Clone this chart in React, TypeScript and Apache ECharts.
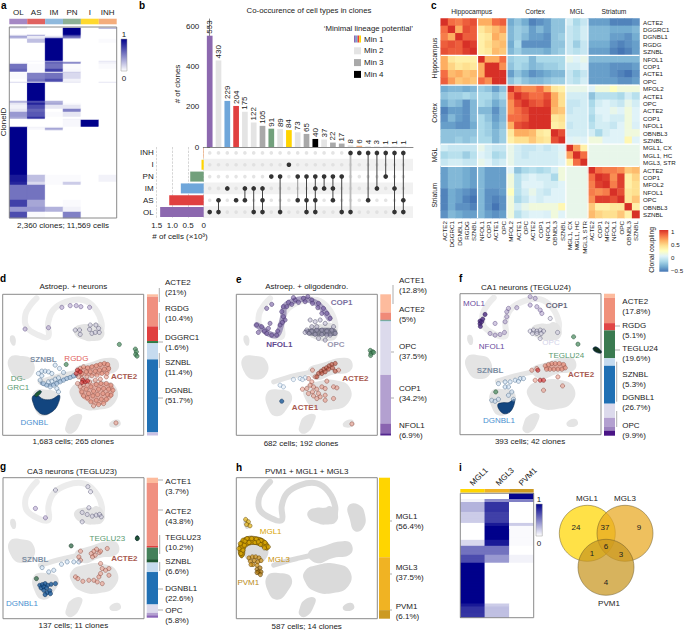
import React, { useEffect, useRef } from "react";
import * as echarts from "echarts";

const FONT = '"Liberation Sans", Arial, sans-serif';
const INK = "#222222";

// ---------- panel a ----------
const aColumns = ["OL", "AS", "IM", "PN", "I", "INH"];
const lineageColors = ["#a588c4", "#e0625f", "#8fb9dd", "#8db096", "#ffd92f", "#f4ad7c"];
// [rows, OL, AS, IM, PN, I, INH]
const aRuns = [
  [1,.15,0,0,0,0,.1],[1,.1,0,0,1,0,.35],[6,0,0,0,1,0,0],[1,.1,.35,0,.8,0,0],[2,.35,.08,.1,.6,0,0],[1,.2,.1,.8,.3,0,0],
  [4,0,.25,1,0,0,.02],[18,0,0,1,0,0,0],[1,0,.03,.4,0,0,.1],[2,.02,0,.6,.45,0,.05],[5,.55,.02,.55,.02,0,.02],[3,.6,.02,.75,.03,0,0],
  [1,0,0,.05,.2,0,0],[6,.02,.5,.55,.15,0,0],[3,0,.55,.7,.05,0,0],[1,.15,.1,.05,.1,0,.1],[18,0,1,0,0,0,0],[2,.3,.7,.3,0,0,0],
  [2,.1,.85,.35,.02,0,0],[4,.05,.7,.1,.1,0,0],[3,.1,.6,0,.5,0,0],[5,.4,.65,.02,.1,0,0],[2,.35,.8,0,0,0,0],[1,0,.05,0,.05,0,0],
  [7,0,0,0,.03,1,0],[1,.9,.05,.05,0,0,0],[2,1,.03,.35,0,0,0],[1,1,0,.1,0,0,0],[44,1,0,0,0,0,0],[7,.9,.25,.02,.02,0,.05],
  [3,.85,.15,.02,.2,0,0],[15,.55,.55,0,0,0,0],[7,.75,.35,0,.02,0,0],[5,.4,.4,.3,.05,0,0],[6,.7,.02,0,.5,0,0],
];

// ---------- panel b ----------
const bCounts = [553,430,229,204,175,122,105,91,89,84,73,65,40,37,22,17,8,6,4,3,1,1,1];
const bColors = ["#8c68af","#e4e4e4","#6fa6da","#e04040","#e4e4e4","#e4e4e4","#a9a9a9","#72a07c","#e4e4e4","#ffd400","#e4e4e4","#a9a9a9","#000000","#e4e4e4","#a9a9a9","#a9a9a9","#e4e4e4","#f4ad7c","#e4e4e4","#e4e4e4","#a9a9a9","#a9a9a9","#a9a9a9"];
const setRows = ["INH", "I", "PN", "IM", "AS", "OL"];
const setSizes = [0.02, 0.07, 0.43, 0.73, 1.1, 1.39];
const setColors = ["#f4ad7c", "#ffd400", "#72a07c", "#6fa6da", "#e04040", "#8c68af"];
// the rows each column's dot sits in, 0 = INH ... 5 = OL
const memberships = [[5],[4,5],[3],[4],[3,4],[3,5],[3,4,5],[2],[2,5],[1],[2,4],[2,4,5],[2,3,4,5],[2,3],[2,3,4],[2,5],[0,5],[0],[0,4],[0,3],[0,2],[0,3,5],[0,4,5]];

// ---------- panel c ----------
const cRows = ["ACTE2","DGGRC1","DGNBL1","RGDG","SZNBL","NFOL1","COP1","ACTE1","OPC","MFOL2","ACTE1","OPC","ACTE2","COP1","NFOL1","OBNBL3","SZNBL","MGL1, CX","MGL1, HC","MGL3, STR","ACTE2","COP1","MFOL2","NFOL1","OPC","OBNBL3","SZNBL"];
// upper triangle of the symmetric coupling matrix, each row starts on the diagonal
const cUpper = [
  [1,.8,.75,.85,.9,.6,.6,.8,.85,-.4,-.3,-.4,-.55,-.5,-.45,-.3,-.3,-.05,-.2,-.1,-.45,-.45,-.45,-.55,-.55,-.55,-.5],
  [1,.6,.9,.85,.35,.45,.55,.65,-.35,-.25,-.3,-.45,-.35,-.45,-.3,-.3,-.1,-.15,-.05,-.35,-.35,-.35,-.4,-.4,-.4,-.35],
  [1,.85,.85,.3,.35,.6,.5,-.35,-.25,-.35,-.45,-.45,-.5,-.3,-.25,-.1,-.15,-.05,-.35,-.35,-.35,-.45,-.45,-.5,-.4],
  [1,.95,.3,.4,.5,.55,-.4,-.2,-.5,-.5,-.5,-.5,-.3,-.3,-.1,-.25,-.1,-.4,-.4,-.4,-.5,-.55,-.5,-.45],
  [1,.3,.35,.55,.5,-.35,-.25,-.35,-.35,-.35,-.4,-.3,-.25,-.1,-.15,-.1,-.45,-.45,-.45,-.55,-.6,-.55,-.45],
  [1,.6,.6,.8,-.25,-.2,-.2,-.35,-.2,-.2,-.2,-.2,.05,0,.05,-.35,-.35,-.35,-.35,-.35,-.35,-.35],
  [1,1,.7,-.3,-.2,-.25,-.35,-.3,-.25,-.25,-.2,-.05,-.05,0,-.45,-.45,-.45,-.5,-.5,-.5,-.45],
  [1,1,-.45,-.3,-.4,-.5,-.45,-.4,-.35,-.35,-.1,-.2,-.1,-.45,-.45,-.45,-.5,-.55,-.6,-.5],
  [1,-.3,-.2,-.3,-.35,-.35,-.3,-.25,-.25,-.1,-.15,-.05,-.45,-.45,-.45,-.45,-.5,-.5,-.45],
  [1,.8,.7,.7,.8,.6,.35,.3,.05,.05,.05,0,.1,.1,.2,.1,.1,.1],
  [1,.9,.8,.8,.9,.6,.4,-.05,-.05,-.05,-.3,-.15,-.15,-.15,-.2,-.05,-.15],
  [1,.9,.85,.95,.6,.4,-.1,-.1,-.05,-.2,-.05,0,-.05,-.1,.05,-.05],
  [1,1,1,.55,.5,-.1,-.05,-.05,-.15,0,0,.05,0,.1,0],
  [1,1,.35,.4,-.05,-.05,-.05,-.2,-.05,0,-.05,-.05,.1,0],
  [1,.3,.35,-.1,-.05,-.05,-.15,-.05,-.05,-.1,0,.1,-.02],
  [1,.9,-.05,-.05,-.05,-.05,-.2,-.05,0,0,.1,.1],
  [1,0,.02,0,.1,.1,0,0,0,.25,0],
  [1,.65,.3,.05,.05,.05,.05,.05,.05,.05],
  [1,.8,.05,.05,.05,.05,.05,.05,.05],
  [1,.05,.05,.05,.05,.05,.05,.05],
  [1,.8,.75,.75,.7,.5,.55],
  [1,.95,.7,.95,.3,.45],
  [1,.75,.95,.3,.4],
  [1,.9,.35,.4],
  [1,.35,.5],
  [1,.3],
  [1],
];
const cGroupBreaks = [5, 9, 17, 20];

// ---------- strips ----------
const stripD = [1.7,21,10.4,1.6,11.4,51.7,2.2];
const stripDColors = ["#fdbfa2","#f09080","#e04040","#2e7a45","#c6dbef","#2171b5","#c9c0e2"];
const stripE = [12.8,5,.5,.5,.5,37.5,34.2,6.9,1.6];
const stripEColors = ["#fdbb9d","#f08a78","#b05a50","#4a9a8a","#9fc5e0","#dcdaec","#b3a0d0","#8a64b0","#54278f"];
const stripF = [2.9,17.8,5.1,19.6,5.3,26.7,9.9,6,3,3.6];
const stripFColors = ["#fdbb9d","#f0907a","#e04545","#3a7a50","#c6dbef","#2070b4","#dcdaec","#b3a0d0","#9d84c0","#4a1486"];
const stripG = [3.7,43.8,1.2,8,2.4,6.6,22.6,5.8,1.7,1.7];
const stripGColors = ["#fdbb9d","#f09080","#e04040","#44805a","#1f5a35","#c6dbef","#2070b4","#dcdaec","#b3a0d0","#8a64b8"];
const stripH = [56.4,37.5,6.1];
const stripHColors = ["#ffd500","#f0b323","#cc9a22"];

// ---------- UMAP background, in frame units ----------
const umapArc = [[101,12],[85,30],[68,60],[71,97],[106,122],[136,127],[136,85],[151,47],[191,22],[241,17],[276,42],[296,87],[291,122]];
const umapRibbon = [[112,262],[150,250],[190,240],[225,232]];
const umapBlobs = [
  [[216,100],[240,90],[265,90],[280,85],[300,100],[300,130],[270,140],[240,135],[216,120]],
  [[22,127],[35,125],[38,150],[28,152]],
  [[20,190],[60,185],[90,200],[90,240],[55,255],[25,235]],
  [[215,225],[260,205],[320,190],[345,200],[340,230],[290,240],[240,255]],
  [[205,280],[240,262],[300,258],[340,280],[335,325],[290,345],[235,340],[205,310]],
  [[92,295],[125,285],[165,300],[150,345],[120,365],[95,340]],
  [[190,390],[205,365],[235,360],[232,385],[210,415],[190,412]],
  [[320,385],[345,375],[352,392],[325,398]],
];
const umapRightPatch = [[335,85],[365,80],[385,110],[380,150],[355,160],[340,125]];

// ---------- UMAP cells: d ----------
const dPurple = [[75,252],[145,248],[185,187],[210,182],[228,182],[242,185],[268,187]];
const dOpc = [[225,255],[238,255],[240,268],[268,253],[275,265],[287,240],[295,250],[285,262],[297,262],[270,240]];
const dGreen = [[357,298],[405,312],[408,320],[406,328],[410,333],[198,358]];
const dSznbl = [[115,385],[125,378],[135,378],[145,380],[155,385],[125,392],[120,405],[130,415],[140,420],[150,425],[160,420],[170,415],[180,410],[190,405],[200,400],[210,397],[220,392],[165,360],[178,370],[190,382],[145,410],[155,408],[165,402],[175,398],[170,430],[175,440]];
const dSznblTrail = [[125,415],[150,420],[180,408],[205,398],[228,392]];
const dActe2 = [[240,370],[250,365],[262,368],[275,365],[288,362],[300,358],[312,355],[322,358],[325,370],[312,372],[298,375],[285,378],[270,380],[258,380],[245,385],[235,395],[245,400],[260,395],[275,392],[290,390],[305,385],[320,385],[318,395],[300,402],[285,405],[268,410],[250,418],[240,425],[232,415],[245,440],[258,432],[272,425],[288,418],[302,415],[318,415],[332,420],[338,435],[325,432],[310,430],[295,432],[280,438],[265,445],[250,452],[262,458],[278,452],[292,448],[308,445],[322,448],[332,450],[318,462],[303,462],[288,465],[272,470],[295,478],[310,475],[280,482],[347,533]];
const dActeUpperMass = [[232,372],[265,362],[322,352],[330,378],[300,390],[262,392],[238,392]];
const dActeLowerMass = [[238,430],[285,412],[335,418],[338,452],[300,480],[268,472],[242,452]];
const dRed = [[232,375],[240,380],[228,385],[248,405],[255,410],[245,412],[262,408]];
const dDgnblMass = [[97,455],[110,450],[130,462],[155,462],[178,450],[172,480],[155,500],[130,508],[110,495],[100,475]];
const dGrcMass = [[103,450],[118,436],[124,440],[110,455]];

// ---------- e ----------
const eCop1 = [[170,200],[175,185],[190,172],[210,165],[235,160],[260,165],[280,175],[295,190],[305,205],[315,220],[175,215],[180,225],[165,240],[155,270],[140,270],[125,265],[110,245],[95,240],[100,262],[135,235],[125,190],[140,178],[185,185],[200,178],[220,172],[240,170],[262,175],[278,188],[290,205],[172,232],[158,258],[118,258],[130,250],[205,158],[248,155]];
const eCopTrail = [[95,240],[110,250],[130,265],[155,270],[168,240],[175,210],[178,185],[200,170],[235,162],[270,172],[295,195],[312,220]];
const eOpc = [[245,255],[260,258],[275,255],[290,255],[305,258],[320,255],[330,265],[255,225],[270,230],[285,225],[300,235],[280,280],[300,285],[315,270],[270,268],[290,268],[240,262],[252,265],[305,270],[325,245],[260,245],[275,245]];
const eOpcMass = [[238,255],[270,250],[330,252],[334,270],[300,272],[250,270]];
const eActe = [[250,400],[260,410],[270,395],[340,375],[255,420],[245,430],[232,432],[265,425],[250,445],[262,440],[275,432],[290,425],[300,430],[280,445],[265,452],[285,455],[300,450],[325,425],[335,428],[325,460],[305,408],[262,375],[380,536],[275,460],[300,465]];
const eRed = [[280,385],[288,378],[296,372],[304,368],[312,362],[320,358],[330,355],[290,385],[300,380],[310,372],[322,368],[275,395],[330,378]];
const eBlue = [[165,420],[175,425],[205,403],[225,400],[240,398],[232,403]];
const eGreen = [[435,316],[442,320],[437,325],[445,322],[436,331]];
const eNavy = [[170,468]];

// ---------- f ----------
const fMol = [[75,228],[75,236],[76,244],[80,230],[83,222],[90,208]];
const fNfol = [[105,265],[120,270],[135,268],[148,262],[120,235],[150,230],[155,215],[155,200],[160,190],[185,188],[225,155],[240,160],[225,180],[245,185],[255,195],[260,205]];
const fOpc = [[225,258],[235,255],[245,258],[255,255],[265,258],[232,265],[245,265],[258,265],[285,220],[307,262],[255,280]];
const fGreen = [[355,275],[368,297],[122,440]];
const fDarkMass = [[413,310],[422,305],[438,318],[436,324],[420,320]];
const fActe = [[270,362],[280,358],[290,355],[300,355],[312,355],[325,358],[330,368],[320,372],[308,372],[296,372],[284,372],[274,372],[230,375],[245,370],[308,395],[265,435],[322,422],[240,405]];
const fActeMass = [[268,360],[290,352],[328,354],[332,372],[290,376],[270,374]];
const fRed = [[255,405],[265,405],[248,375]];
const fBlue = [[130,415],[150,410],[165,410],[180,405],[160,425],[150,425],[195,400],[205,400],[190,408],[110,465],[120,468],[170,440],[160,450],[175,462],[130,462]];
const fDgnblMass = [[128,478],[145,472],[160,472],[178,462],[172,490],[155,505],[138,500]];

// ---------- g ----------
const gPurple = [[105,220],[135,248]];
const gGrey = [[165,165],[262,155],[270,170],[265,218],[245,232],[260,238],[275,243],[287,240],[297,238],[245,260],[302,245]];
const gGreen = [[212,332],[108,430],[410,310]];
const gDarkMass = [[405,305],[412,302],[415,312],[407,316]];
const gActe = [[240,348],[272,355],[280,348],[288,342],[296,352],[284,360],[300,348],[320,340],[276,365],[225,425],[232,430],[247,438],[265,435],[280,435],[295,425],[300,415],[305,400],[315,405],[325,400],[300,385],[325,420],[305,445],[240,375],[235,365],[290,440]];
const gBlue = [[125,397],[160,405],[145,410],[183,387],[200,380],[220,380],[235,380]];
const gNavy = [[118,450],[126,448],[134,445],[142,450],[152,447],[165,445],[122,458],[130,455],[138,458],[130,465],[140,472],[148,466],[134,478],[150,475]];

// ---------- h ----------
const hRing = [[42,340],[46,325],[54,315],[66,310],[80,310],[94,312],[108,316],[120,322],[130,335],[48,355],[58,330],[72,322],[90,322],[106,328],[118,338],[54,345],[60,318],[100,320]];
const hSmall = [[62,253],[70,260],[65,268],[75,272]];
const hBlob = [[72,368],[82,365],[92,365],[102,368],[108,376],[76,378],[88,376],[98,380],[84,388],[96,390],[78,388]];
const hPvm = [[96,402],[105,398],[100,410],[108,410],[106,418],[96,412]];
const hRingMass = [[40,345],[45,320],[65,305],[95,305],[120,315],[133,335],[125,345],[105,332],[80,328],[62,338],[58,360],[50,368],[42,360]];

// ---------- panel i ----------
const iColumns = ["MGL1", "MGL3", "PVM1"];
const iColors = ["#ffd500", "#f0b323", "#cc9a22"];
// [rows, MGL1, MGL3, PVM1]
const iRuns = [[6,0,0,1],[3,.05,.45,.5],[10,.3,.8,0],[11,.2,.75,0],[3,0,.9,.2],[14,0,1,.02],[6,.15,.9,.02],[9,.55,.55,0],[8,.7,.4,.05],[41,1,0,0],[3,.9,.2,0],[11,.8,.25,0]];
const vennCounts = ["24","37","9","1","6","3","4"];

function expandRuns(runs: number[][]) {
  const out: number[][] = [];
  let row = 0;
  runs.forEach(([n, ...vals]) => {
    for (let i = 0; i < n; i++) {
      vals.forEach((v, c) => out.push([c, row, v]));
      row++;
    }
  });
  return { cells: out, rows: row };
}

function buildOption() {
  const grid: any[] = [], xAxis: any[] = [], yAxis: any[] = [], series: any[] = [], graphic: any[] = [];
  const hidden = { show: false };
  const addGrid = (x: number, y: number, w: number, h: number, xa: any, ya: any, extra: any = {}) => {
    grid.push({ left: x, top: y, width: w, height: h, containLabel: false, ...extra });
    const i = grid.length - 1;
    xAxis.push({ gridIndex: i, ...xa });
    yAxis.push({ gridIndex: i, ...ya });
    return i;
  };
  const text = (s: string, x: number, y: number, o: any = {}) => {
    const { align = "left", size = 8, color = INK, weight = "normal", rotation = 0, style = "normal" } = o;
    graphic.push({
      type: "text", x, y, rotation, z: 100, silent: true,
      style: { text: s, x: 0, y: 0, fill: color, fontFamily: FONT, fontSize: size, fontWeight: weight, fontStyle: style, align, textAlign: align, verticalAlign: "middle", textVerticalAlign: "middle" },
    });
  };
  const vLine = (x: number, y1: number, y2: number) => graphic.push({ type: "line", z: 100, silent: true, shape: { x1: x, y1, x2: x, y2 }, style: { stroke: "#8a8a8a", lineWidth: 0.7 } });
  const hLine = (x1: number, x2: number, y: number) => graphic.push({ type: "line", z: 100, silent: true, shape: { x1, y1: y, x2, y2: y }, style: { stroke: "#8a8a8a", lineWidth: 0.7 } });
  const frame = (x: number, y: number, w: number, h: number) => graphic.push({ type: "rect", z: 99, silent: true, shape: { x, y, width: w, height: h }, style: { fill: "none", stroke: "#8a8a8a", lineWidth: 1 } });
  const swatch = (x: number, y: number, w: number, h: number, fill: any) => graphic.push({ type: "rect", z: 100, silent: true, shape: { x, y, width: w, height: h }, style: { fill } });

  const cat = (data: any[], o: any = {}) => ({ type: "category", data, axisLine: hidden, axisTick: hidden, axisLabel: hidden, splitLine: hidden, ...o });
  const heat = (g: number, data: number[][], vm: string) => ({
    id: vm, type: "heatmap", xAxisIndex: g, yAxisIndex: g, data, progressive: 0, silent: true, itemStyle: { borderWidth: 0 }, emphasis: { disabled: true }, animation: false,
  });

  // ---- a ----
  const a = expandRuns(aRuns);
  const aG = addGrid(9.3, 27, 107.4, 191, cat(aColumns), cat(Array.from({ length: a.rows }, (_, i) => i), { inverse: true }));
  series.push(heat(aG, a.cells, "heatA"));
  const aHeatIdx = series.length - 1;
  frame(9.3, 27, 107.4, 191);
  const hStrip = (x: number, y: number, w: number, h: number, cols: string[]) => {
    const g = addGrid(x, y, w, h, { type: "value", min: 0, max: cols.length, show: false }, cat(["s"]));
    cols.forEach((c) => series.push({ type: "bar", stack: "s" + g, xAxisIndex: g, yAxisIndex: g, data: [1], barWidth: "100%", silent: true, itemStyle: { color: c } }));
  };
  hStrip(9.3, 18.7, 107.4, 5.6, lineageColors);
  aColumns.forEach((c, i) => text(c, 9.3 + (i + 0.5) * 17.9, 12, { align: "center", size: 8 }));
  text("ClonelD", 3.5, 122, { align: "center", rotation: Math.PI / 2, size: 8 });
  text("2,360 clones; 11,569 cells", 63, 225, { align: "center", size: 8 });
  const navyGrad = () => new echarts.graphic.LinearGradient(0, 0, 0, 1, [{ offset: 0, color: "#00008b" }, { offset: 1, color: "#ffffff" }]);
  graphic.push({ type: "rect", z: 100, silent: true, shape: { x: 121, y: 39, width: 6, height: 32 }, style: { fill: navyGrad(), stroke: "#999", lineWidth: 0.5 } });
  text("1", 124, 34, { align: "center", size: 8 });
  text("0", 124, 78, { align: "center", size: 8 });

  // ---- b ----
  const xMin = -0.727, xMax = 23.1;
  const bG = addGrid(203.3, 19, 209.7, 128,
    { type: "value", min: xMin, max: xMax, axisLine: { show: true, lineStyle: { color: "#555", width: 0.7 } }, axisTick: hidden, axisLabel: hidden, splitLine: hidden },
    { type: "value", min: 0, max: 636, axisLine: { show: true, lineStyle: { color: "#555", width: 0.7 } }, axisTick: { show: true, length: 2.5, lineStyle: { color: "#555", width: 0.7 }, customValues: [0, 200, 400, 600] }, axisLabel: { show: true, fontSize: 8, fontFamily: FONT, color: INK, margin: 4, customValues: [0, 200, 400, 600] }, splitLine: hidden });
  series.push({
    type: "bar", xAxisIndex: bG, yAxisIndex: bG, barWidth: 5.7, silent: true,
    data: bCounts.map((v, i) => ({ value: [i, v], itemStyle: { color: bColors[i] } })),
    label: { show: true, position: "top", rotate: 90, align: "left", verticalAlign: "middle", distance: 2, fontSize: 8, fontFamily: FONT, color: INK, formatter: (p: any) => String(p.value[1]) },
  });
  text("# of clones", 177, 84, { align: "center", rotation: Math.PI / 2, size: 8 });
  text("Co-occurence of cell types in clones", 309, 10, { align: "center", size: 7.8 });
  text("‘Minimal lineage potential’", 413, 28, { align: "right", size: 7.8 });
  ["Min 1", "Min 2", "Min 3", "Min 4"].forEach((m, i) => text(m, 364, 39 + i * 11.8, { size: 8 }));
  ["#8c68af", "#6fa6da", "#e04040", "#ffd400"].forEach((c, i) => swatch(354 + i * 1.75, 35.5, 1.75, 7, c));
  swatch(354, 47.3, 7, 7, "#e4e4e4");
  swatch(354, 59.1, 7, 7, "#a9a9a9");
  swatch(354, 70.9, 7, 7, "#000000");

  const mG = addGrid(203.3, 147, 209.7, 71, { type: "value", min: xMin, max: xMax, show: false }, { type: "value", min: -0.5, max: 5.5, inverse: true, show: false });
  const allDots: number[][] = [];
  bCounts.forEach((_, c) => setRows.forEach((__, r) => allDots.push([c, r])));
  series.push({
    type: "scatter", xAxisIndex: mG, yAxisIndex: mG, data: allDots, symbolSize: 3.6, silent: true, itemStyle: { color: "#dddddd" },
    markArea: { silent: true, itemStyle: { color: "#f1f1f1" }, data: [[{ yAxis: 0.5 }, { yAxis: 1.5 }], [{ yAxis: 2.5 }, { yAxis: 3.5 }], [{ yAxis: 4.5 }, { yAxis: 5.5 }]] },
  });
  memberships.forEach((rows, c) => series.push({
    type: "line", xAxisIndex: mG, yAxisIndex: mG, data: rows.map((r) => [c, r]), symbol: "circle", symbolSize: 4.6, silent: true,
    itemStyle: { color: "#333333" }, lineStyle: { color: c === 16 ? "#bbbbbb" : c === 10 ? "#999999" : "#444444", width: c === 16 ? 1.8 : 1 }, z: 4,
  }));
  const lG = addGrid(156.7, 147, 47, 71,
    { type: "value", inverse: true, min: 0, max: 1.5, interval: 0.5, axisLine: hidden, axisTick: hidden, splitLine: { show: true, lineStyle: { type: "dashed", color: "#bbbbbb", width: 0.6 } }, axisLabel: { show: true, fontSize: 8, fontFamily: FONT, color: INK, margin: 3, hideOverlap: false, formatter: (v: number) => (v === 0 ? "0" : v.toFixed(1)) } },
    cat(setRows, { inverse: true, position: "left", axisLine: { show: false, onZero: false }, axisLabel: { show: true, fontSize: 8, fontFamily: FONT, color: INK, margin: 3 } }));
  series.push({ type: "bar", xAxisIndex: lG, yAxisIndex: lG, barWidth: 10, silent: true, data: setSizes.map((v, i) => ({ value: v, itemStyle: { color: setColors[i] } })) });
  text("# of cells (×10³)", 180, 236, { align: "center", size: 8 });

  // ---- c ----
  const n = cRows.length;
  const cCells: number[][] = [];
  const full: number[][] = Array.from({ length: n }, () => new Array(n).fill(0));
  cUpper.forEach((row, i) => row.forEach((v, k) => { full[i][i + k] = v; full[i + k][i] = v; }));
  full.forEach((row, i) => row.forEach((v, j) => cCells.push([j, i, v])));
  const cX = 440.7, cY = 18.5, cW = 198.8, cH = 199.6;
  const cG = addGrid(cX, cY, cW, cH,
    cat(cRows.map((s, i) => s + "\u200b".repeat(i % 2)), { axisLabel: { show: true, interval: 0, rotate: 90, fontSize: 6.2, fontFamily: FONT, color: INK, margin: 3, formatter: (v: string) => v.replace(/\u200b/g, "") } }),
    cat(cRows.map((s, i) => s + "\u200b".repeat(i % 2)), { inverse: true, position: "right", axisLabel: { show: true, interval: 0, fontSize: 6.2, fontFamily: FONT, color: INK, margin: 3.5, formatter: (v: string) => v.replace(/\u200b/g, "") } }));
  series.push(heat(cG, cCells, "heatC"));
  const cHeatIdx = series.length - 1;
  cGroupBreaks.forEach((b) => {
    const dx = cX + (b * cW) / n, dy = cY + (b * cH) / n;
    graphic.push({ type: "line", z: 50, silent: true, shape: { x1: dx, y1: cY, x2: dx, y2: cY + cH }, style: { stroke: "#fff", lineWidth: 1.2 } });
    graphic.push({ type: "line", z: 50, silent: true, shape: { x1: cX, y1: dy, x2: cX + cW, y2: dy }, style: { stroke: "#fff", lineWidth: 1.2 } });
  });
  [["Hippocampus", 471.7], ["Cortex", 535], ["MGL", 577], ["Striatum", 614]].forEach(([s, x]: any) => text(s, x, 11.5, { align: "center", size: 6.7 }));
  [["Hippocampus", 58], ["Cortex", 113], ["MGL", 155], ["Striatum", 195]].forEach(([s, y]: any) => text(s, 434, y, { align: "center", size: 6.7, rotation: Math.PI / 2 }));
  const rdyl = ["#d73027", "#f46d43", "#fdae61", "#fee090", "#ffffbf", "#e0f3f8", "#abd9e9", "#74add1", "#4575b4"];
  graphic.push({ type: "rect", z: 100, silent: true, shape: { x: 659.3, y: 230, width: 9, height: 41.7 }, style: { fill: new echarts.graphic.LinearGradient(0, 0, 0, 1, rdyl.map((c, i) => ({ offset: i / (rdyl.length - 1), color: c }))) } });
  [["1", 231], ["0.5", 244], ["0", 257], ["−0.5", 270]].forEach(([s, y]: any) => text(s, 671, y, { size: 6.2 }));
  text("Clonal coupling", 651.7, 250, { align: "center", size: 6.7, rotation: Math.PI / 2 });

  // ---- strips ----
  const vStrip = (x: number, y: number, w: number, h: number, vals: number[], cols: string[]) => {
    const g = addGrid(x, y, w, h, cat(["s"]), { type: "value", min: 0, max: vals.reduce((s, v) => s + v, 0), inverse: true, show: false });
    vals.forEach((v, i) => series.push({ type: "bar", stack: "v" + g, xAxisIndex: g, yAxisIndex: g, data: [v], barWidth: "100%", silent: true, itemStyle: { color: cols[i] } }));
  };

  // ---- umap ----
  const umap = (x: number, y: number, ox: number, oy: number, h: boolean) => {
    const g = addGrid(x, y, 141, 141, { type: "value", min: ox, max: ox + 422, show: false }, { type: "value", min: oy, max: oy + 422, inverse: true, show: false }, { show: true, borderColor: "#8a8a8a", borderWidth: 1, backgroundColor: "transparent" });
    const fill = h ? "#dadada" : "#e4e4e4";
    const blobs = h ? [...umapBlobs, umapRightPatch] : umapBlobs;
    series.push({
      type: "custom", xAxisIndex: g, yAxisIndex: g, silent: true, z: 1, data: [[ox, oy]],
      renderItem: (_: any, api: any) => ({
        type: "group",
        children: [
          { type: "polyline", shape: { points: umapArc.map(([u, v]) => api.coord([u + ox, v + oy])), smooth: 0.4 }, style: { stroke: h ? fill : "#ececec", fill: "none", lineWidth: 6, lineCap: "round", lineJoin: "round" } },
          { type: "polyline", shape: { points: umapRibbon.map(([u, v]) => api.coord([u + ox, v + oy])), smooth: 0.4 }, style: { stroke: fill, fill: "none", lineWidth: 5, lineCap: "round" } },
          ...blobs.map((b) => ({ type: "polygon", shape: { points: b.map(([u, v]) => api.coord([u + ox, v + oy])), smooth: 0.5 }, style: { fill } })),
        ],
      }),
    });
    return g;
  };
  const cells = (g: number, data: number[][], fill: string, stroke: string, size = 4.2) =>
    series.push({ type: "scatter", xAxisIndex: g, yAxisIndex: g, data, symbolSize: size, silent: true, z: 3, itemStyle: { color: fill, borderColor: stroke, borderWidth: 0.6 } });
  const mass = (g: number, pts: number[][], fill: string, stroke = "#0a2a50") =>
    series.push({ type: "custom", xAxisIndex: g, yAxisIndex: g, silent: true, z: 2, data: [pts[0]], renderItem: (_: any, api: any) => ({ type: "polygon", shape: { points: pts.map((p) => api.coord(p)), smooth: 0.4 }, style: { fill, stroke, lineWidth: 0.6 } }) });
  const trail = (g: number, pts: number[][], stroke: string, width: number) =>
    series.push({ type: "custom", xAxisIndex: g, yAxisIndex: g, silent: true, z: 2, data: [pts[0]], renderItem: (_: any, api: any) => ({ type: "polyline", shape: { points: pts.map((p) => api.coord(p)), smooth: 0.4 }, style: { fill: "none", stroke, lineWidth: width, lineCap: "round" } }) });

  const PURPLE = ["rgba(155,135,190,.55)", "#5a4a80"], LAV = ["rgba(190,185,215,.45)", "#55556f"], SALMON = ["rgba(235,140,120,.6)", "#8a4a40"], RED = ["rgba(215,50,50,.8)", "#701515"], LBLUE = ["rgba(190,215,240,.6)", "#4a6a8a"], GREEN = ["rgba(74,138,94,.9)", "#1e4a2e"], NAVY = ["#1a5a9a", "#0a2a50"];
  const salmonMass = "rgba(222,125,105,.55)";

  const panel = (letter: string, lx: number, ly: number) => text(letter, lx, ly, { size: 10, weight: "bold", color: "#000" });
  const uLabel = (ox: number, oy: number, fx: number, fy: number) => (s: string, zx: number, zy: number, color: string, bold = false) =>
    text(s, fx + (zx - ox) / 3, fy + (zy - oy) / 3, { align: "center", size: 8, color, weight: bold ? "bold" : "normal" });

  // d
  const dG = umap(2.7, 294.3, 8, 148, false);
  cells(dG, dPurple, PURPLE[0], PURPLE[1]); cells(dG, dOpc, LAV[0], LAV[1]); cells(dG, dGreen, GREEN[0], GREEN[1]);
  mass(dG, dDgnblMass, "#12457f"); mass(dG, dGrcMass, "#1f5a35");
  mass(dG, dActeUpperMass, salmonMass, "transparent"); mass(dG, dActeLowerMass, salmonMass, "transparent");
  trail(dG, dSznblTrail, "rgba(80,120,165,.55)", 4);
  cells(dG, dSznbl, LBLUE[0], LBLUE[1]); cells(dG, dActe2, SALMON[0], SALMON[1]); cells(dG, dRed, RED[0], RED[1]);
  vStrip(147, 294.3, 11, 141.2, stripD, stripDColors);
  const dL = uLabel(8, 148, 2.7, 294.3);
  dL("SZNBL", 130, 345, "#7d8ea3", true); dL("RGDG", 229, 340, "#e0605a"); dL("ACTE2", 372, 394, "#a85a50", true); dL("DG-", 54, 401, "#5a9a70"); dL("GRC1", 54, 429, "#5a9a70"); dL("DGNBL", 103, 532, "#4a90d0");
  text("Astroep. + neurons", 73.3, 286.3, { align: "center", size: 8 });
  text("1,683 cells; 265 clones", 73.3, 441.7, { align: "center", size: 8 });
  [["ACTE2","(21%)",282.7],["RGDG","(10.4%)",308.3],["DGGRC1","(1.6%)",337.7],["SZNBL","(11.4%)",362.3],["DGNBL","(51.7%)",390.7]].forEach(([a1,b1,y]: any) => { text(a1, 165, y); text(b1, 165, y + 10); });
  vLine(159.3, 288, 302); vLine(159.3, 313, 330); vLine(159.3, 353, 368); hLine(158, 163, 342); hLine(158, 163, 398);

  // e
  const eG = umap(236.3, 294.3, 34, 148, false);
  trail(eG, eCopTrail, "rgba(90,70,140,.5)", 6); mass(eG, eOpcMass, "rgba(90,90,115,.7)", "transparent");
  cells(eG, eCop1, "rgba(115,90,160,.75)", "#3f2f66"); cells(eG, eOpc, "rgba(170,165,195,.55)", "#454560");
  cells(eG, eActe, SALMON[0], SALMON[1]); cells(eG, eRed, "rgba(190,80,60,.8)", "#6a2a20"); cells(eG, eBlue, "rgba(220,232,245,.6)", "#6a8aaa"); cells(eG, eGreen, GREEN[0], GREEN[1]); cells(eG, eNavy, NAVY[0], NAVY[1]);
  vStrip(380.3, 294.3, 10.7, 141.2, stripE, stripEColors);
  const eL = uLabel(34, 148, 236.3, 294.3);
  eL("COP1", 350, 174, "#7a70a0", true); eL("NFOL1", 163, 298, "#5f4a8f", true); eL("OPC", 333, 298, "#9a98b0", true); eL("ACTE2", 391, 401, "#a85a50", true); eL("ACTE1", 240, 489, "#a85a50", true);
  text("Astroep. + oligodendro.", 306.7, 286.3, { align: "center", size: 8 });
  text("682 cells; 192 clones", 301, 443, { align: "center", size: 8 });
  [["ACTE1","(12.8%)",280],["ACTE2","(5%)",309.3],["OPC","(37.5%)",346.7],["COP1","(34.2%)",388.3],["NFOL1","(6.9%)",425.7]].forEach(([a1,b1,y]: any) => { text(a1, 399, y); text(b1, 399, y + 10); });
  vLine(393, 285, 304); hLine(391, 394, 352); hLine(391, 394, 398);

  // f
  const fG = umap(460, 293.7, 15, 146, false);
  cells(fG, fNfol, PURPLE[0], PURPLE[1]); cells(fG, fMol, "#4a2a80", "#2a1550"); cells(fG, fOpc, LAV[0], LAV[1]); cells(fG, fGreen, GREEN[0], GREEN[1]);
  mass(fG, fDarkMass, "#12301f"); mass(fG, fDgnblMass, "#12457f"); mass(fG, fActeMass, salmonMass, "transparent");
  cells(fG, fBlue, LBLUE[0], LBLUE[1]); cells(fG, fActe, SALMON[0], SALMON[1]); cells(fG, fRed, RED[0], RED[1]);
  vStrip(604, 293.7, 11, 142, stripF, stripFColors);
  const fL = uLabel(15, 146, 460, 293.7);
  fL("MOL1", 57, 174, "#6a4aa0"); fL("COP1", 305, 182, "#6a6a80", true); fL("NFOL1", 110, 304, "#6a4aa0"); fL("OPC", 288, 293, "#d4d4ea"); fL("TEGLU24", 334, 330, "#5a9a70"); fL("SZNBL", 105, 376, "#7d8ea3", true); fL("ACTE2", 378, 389, "#a85a50", true); fL("DGNBL1", 132, 525, "#4a90d0");
  text("CA1 neurons (TEGLU24)", 526, 287, { align: "center", size: 8 });
  text("393 cells; 42 clones", 530, 441, { align: "center", size: 8 });
  [["ACTE2","(17.8%)",301.7],["RGDG","(5.1%)",325.7],["TEGLU24","(19.6%)",348.3],["SZNBL","(5.3%)",374],["DGNBL1","(26.7%)",397.7],["OPC","(9.9%)",425.7]].forEach(([a1,b1,y]: any) => { text(a1, 622.3, y); text(b1, 622.3, y + 10); });
  vLine(616.7, 361.7, 401.7); vLine(616.7, 411, 427); hLine(615, 620, 326); hLine(615, 620, 350);

  // g
  const gG = umap(3, 477.7, 8, 128, false);
  cells(gG, gPurple, PURPLE[0], PURPLE[1]); cells(gG, gGrey, LAV[0], LAV[1]); mass(gG, gDarkMass, "#12301f"); cells(gG, gGreen, "rgba(40,100,65,.9)", "#12301f");
  cells(gG, gActe, SALMON[0], SALMON[1]); cells(gG, gBlue, LBLUE[0], LBLUE[1]); cells(gG, gNavy, NAVY[0], NAVY[1]);
  vStrip(146.7, 477.7, 11.3, 140, stripG, stripGColors);
  const gL = uLabel(8, 128, 3, 477.7);
  gL("TEGLU23", 321, 310, "#5a9a70"); gL("ACTE2", 372, 369, "#a85a50", true); gL("SZNBL", 104, 374, "#7d8ea3", true); gL("DGNBL1", 65, 506, "#4a90d0");
  text("CA3 neurons (TEGLU23)", 72, 471.7, { align: "center", size: 8 });
  text("137 cells; 11 clones", 73.3, 625.3, { align: "center", size: 8 });
  [["ACTE1","(3.7%)",481.7],["ACTE2","(43.8%)",511],["TEGLU23","(10.2%)",537],["SZNBL","(6.6%)",561.7],["DGNBL1","(22.6%)",588.3],["OPC","(5.8%)",610.7]].forEach(([a1,b1,y]: any) => { text(a1, 165.3, y); text(b1, 165.3, y + 10); });
  vLine(159.7, 535, 554); vLine(159.7, 562, 571); hLine(158, 163, 480); hLine(158, 163, 510); hLine(158, 163, 589); hLine(158, 163, 610);

  // h
  const hG = umap(236.3, 477.7, 34, 128, true);
  mass(hG, hRingMass, "#b98a00", "#5a4200");
  cells(hG, hRing, "rgba(225,175,10,.8)", "#5a4200"); cells(hG, hSmall, "rgba(225,175,10,.85)", "#5a4200");
  cells(hG, hBlob, "rgba(205,140,10,.85)", "#5a3a00"); cells(hG, hPvm, "rgba(175,120,15,.9)", "#4a3000");
  vStrip(379, 477.7, 11, 141, stripH, stripHColors);
  const hL = uLabel(34, 128, 236.3, 477.7);
  hL("MGL1", 137, 289, "#d9a400"); hL("MGL3", 162, 374, "#c9900a"); hL("PVM1", 70, 441, "#b98a20");
  text("PVM1 + MGL1 + MGL3", 306.7, 471.7, { align: "center", size: 8 });
  text("587 cells; 14 clones", 306.7, 626, { align: "center", size: 8 });
  [["MGL1","(56.4%)",516],["MGL3","(37.5%)",567.7],["PVM1","(6.1%)",606]].forEach(([a1,b1,y]: any) => { text(a1, 395.7, y); text(b1, 395.7, y + 10); });
  hLine(390, 392, 521); hLine(390, 392, 574); hLine(390, 392, 610);

  // ---- i ----
  const ih = expandRuns(iRuns);
  const iG = addGrid(460.3, 493.3, 73.4, 124.4, cat(iColumns), cat(Array.from({ length: ih.rows }, (_, k) => k), { inverse: true }));
  series.push(heat(iG, ih.cells, "heatI"));
  const iHeatIdx = series.length - 1;
  frame(460.3, 493.3, 73.4, 124.4);
  hStrip(460.3, 489, 73.4, 3.6, iColors);
  [479, 505, 528].forEach((x, k) => text(iColumns[k], x, 476.7, { align: "center", size: 8, rotation: Math.PI / 4 }));
  graphic.push({ type: "rect", z: 100, silent: true, shape: { x: 536, y: 504, width: 6.3, height: 32 }, style: { fill: navyGrad(), stroke: "#999", lineWidth: 0.5 } });
  text("1", 539, 499, { align: "center", size: 8 });
  text("0", 539, 543, { align: "center", size: 8 });
  const venn: [number, number, string][] = [[587.3, 533.3, "#ffd500"], [625, 533.3, "#e8a820"], [606, 567.3, "#c8961e"]];
  venn.forEach(([cx, cy, c]) => graphic.push({ type: "circle", z: 60, silent: true, shape: { cx, cy, r: 28 }, style: { fill: c, opacity: 0.72, stroke: "#6b5a2a", lineWidth: 0.7 } }));
  [[576, 527], [605, 527], [639, 527], [592, 553], [606, 546], [621, 554], [606, 582]].forEach(([x, y], k) => text(vennCounts[k], x, y, { align: "center", size: 8 }));
  text("MGL1", 587, 498.5, { align: "center", size: 8 });
  text("MGL3", 625, 498.5, { align: "center", size: 8 });
  text("PVM1", 609, 603, { align: "center", size: 8 });

  // letters
  panel("a", 1, 5); panel("b", 139, 5); panel("c", 431, 5); panel("d", 0, 278); panel("e", 236, 279); panel("f", 459, 278); panel("g", 0, 466); panel("h", 236, 467); panel("i", 459, 467);

  return {
    animation: false,
    backgroundColor: "#ffffff",
    textStyle: { fontFamily: FONT },
    grid, xAxis, yAxis, series, graphic: { elements: graphic },
    visualMap: [
      { show: false, min: 0, max: 1, seriesIndex: aHeatIdx, inRange: { color: ["#ffffff", "#00008b"] } },
      { show: false, min: -0.6, max: 1, seriesIndex: cHeatIdx, inRange: { color: [...rdyl].reverse() } },
      { show: false, min: 0, max: 1, seriesIndex: iHeatIdx, inRange: { color: ["#ffffff", "#00008b"] } },
    ],
  };
}

export default function App() {
  const ref = useRef<HTMLDivElement>(null);
  useEffect(() => {
    document.body.style.margin = "0";
    const chart = echarts.init(ref.current!, undefined, { renderer: "svg" });
    chart.setOption(buildOption() as any);
    return () => chart.dispose();
  }, []);
  return <div ref={ref} style={{ width: 685, height: 630 }} />;
}
